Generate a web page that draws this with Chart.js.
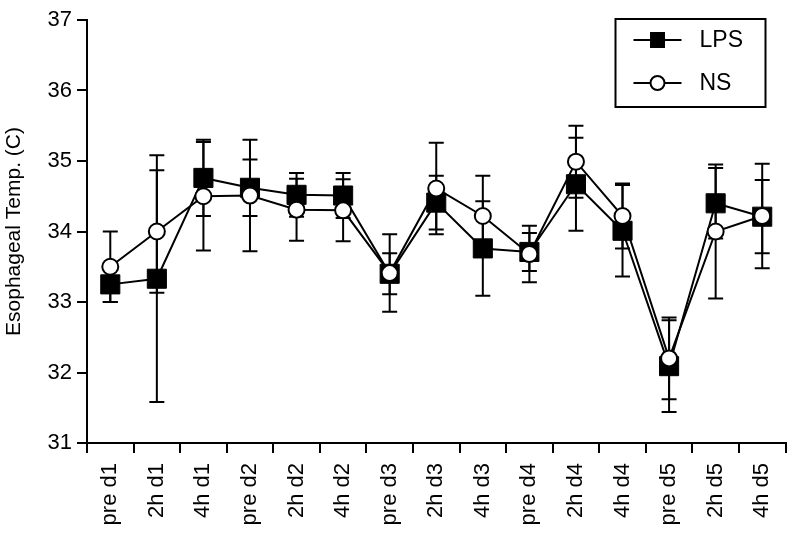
<!DOCTYPE html>
<html>
<head>
<meta charset="utf-8">
<script src="https://cdn.jsdelivr.net/npm/chart.js@4.4.0/dist/chart.umd.min.js"></script>
<style>
  html, body { margin: 0; padding: 0; background: #fff; }
  #wrap { width: 800px; height: 536px; }
</style>
</head>
<body>
<div id="wrap"><canvas id="tempChart"></canvas></div>
<script>
// time points
const timepoints = ['pre d1', '2h d1', '4h d1', 'pre d2', '2h d2', '4h d2', 'pre d3', '2h d3',
  '4h d3', 'pre d4', '2h d4', '4h d4', 'pre d5', '2h d5', '4h d5'];

// means and error (+/-)
const lpsMean = [33.25, 33.33, 34.76, 34.62, 34.52, 34.51, 33.40, 34.41, 33.76, 33.71, 34.67, 34.01, 32.09, 34.40, 34.21];
const lpsErr  = [0.25, 1.75, 0.54, 0.40, 0.31, 0.32, 0.29, 0.38, 0.67, 0.27, 0.66, 0.65, 0.65, 0.50, 0.52];
const nsMean  = [33.50, 34.00, 34.50, 34.51, 34.31, 34.30, 33.41, 34.61, 34.22, 33.68, 34.99, 34.22, 32.20, 34.00, 34.22];
const nsErr   = [0.50, 0.87, 0.77, 0.79, 0.44, 0.44, 0.55, 0.65, 0.57, 0.40, 0.51, 0.46, 0.58, 0.95, 0.74];

const yTicks = [31, 32, 33, 34, 35, 36, 37];

const FONT = 'Liberation Sans, Arial, sans-serif';

// error bars, drawn under the markers
const errorBars = {
  id: 'errorBars',
  beforeDatasetsDraw(chart) {
    const ctx = chart.ctx;
    const xs = chart.scales.x, ys = chart.scales.y;
    ctx.save();
    ctx.strokeStyle = '#000';
    ctx.lineWidth = 2;
    chart.data.datasets.forEach(ds => {
      ds.data.forEach((v, i) => {
        const e = ds.errors[i];
        const x = xs.getPixelForValue(i);
        const yt = ys.getPixelForValue(v + e);
        const yb = ys.getPixelForValue(v - e);
        ctx.beginPath();
        ctx.moveTo(x, yt); ctx.lineTo(x, yb);
        ctx.moveTo(x - 7.5, yt); ctx.lineTo(x + 7.5, yt);
        ctx.moveTo(x - 7.5, yb); ctx.lineTo(x + 7.5, yb);
        ctx.stroke();
      });
    });
    ctx.restore();
  }
};

// boxed legend in the top right corner
const boxLegend = {
  id: 'boxLegend',
  afterDraw(chart) {
    const ctx = chart.ctx;
    const a = chart.chartArea;
    const left = a.right - 170, top = a.top - 1;
    ctx.save();
    ctx.strokeStyle = '#000';
    ctx.lineWidth = 2;
    ctx.strokeRect(left, top, 150, 88);
    const rows = [chart.data.datasets[1], chart.data.datasets[0]]; // LPS first
    rows.forEach((ds, k) => {
      const y = top + 21 + k * 43;
      ctx.beginPath();
      ctx.moveTo(left + 18, y); ctx.lineTo(left + 66, y);
      ctx.stroke();
      const mx = left + 42;
      if (ds.pointStyle === 'rect') {
        ctx.fillStyle = '#000';
        ctx.fillRect(mx - 7.5, y - 8, 15, 16);
      } else {
        ctx.beginPath();
        ctx.arc(mx, y, 7, 0, Math.PI * 2);
        ctx.fillStyle = '#fff';
        ctx.fill();
        ctx.stroke();
      }
      ctx.fillStyle = '#000';
      ctx.font = '23px ' + FONT;
      ctx.textBaseline = 'middle';
      ctx.fillText(ds.label, left + 84, y + 1);
    });
    ctx.restore();
  }
};

new Chart(document.getElementById('tempChart'), {
  type: 'line',
  data: {
    labels: timepoints,
    datasets: [
      {
        label: 'NS',
        data: nsMean,
        errors: nsErr,
        borderColor: '#000',
        borderWidth: 2,
        pointStyle: 'circle',
        pointRadius: 8,
        pointBackgroundColor: '#fff',
        pointBorderColor: '#000',
        pointBorderWidth: 2,
        tension: 0,
        order: 1
      },
      {
        label: 'LPS',
        data: lpsMean,
        errors: lpsErr,
        borderColor: '#000',
        borderWidth: 2,
        pointStyle: 'rect',
        pointRadius: 13.5,
        pointBackgroundColor: '#000',
        pointBorderColor: '#000',
        pointBorderWidth: 1,
        tension: 0,
        order: 2
      }
    ]
  },
  options: {
    responsive: true,
    maintainAspectRatio: false,
    animation: false,
    layout: { padding: { top: 20, right: 13, left: 0, bottom: 0 } },
    plugins: {
      legend: { display: false },
      tooltip: { enabled: false }
    },
    scales: {
      x: {
        offset: true,
        grid: {
          offset: true,
          drawOnChartArea: false,
          drawTicks: true,
          tickLength: 10,
          color: '#000',
          lineWidth: 2
        },
        border: { display: true, color: '#000', width: 2 },
        ticks: {
          autoSkip: false,
          maxRotation: 90,
          minRotation: 90,
          padding: 10,
          color: '#000',
          font: { family: FONT, size: 22 }
        },
        afterFit: s => { s.height = 93; }
      },
      y: {
        min: 31,
        max: 37,
        afterBuildTicks: s => { s.ticks = yTicks.map(v => ({ value: v })); },
        grid: {
          drawOnChartArea: false,
          drawTicks: true,
          tickLength: 10,
          color: '#000',
          lineWidth: 2
        },
        border: { display: true, color: '#000', width: 2 },
        ticks: {
          padding: 5,
          color: '#000',
          font: { family: FONT, size: 22 }
        },
        title: {
          display: true,
          text: 'Esophageal Temp. (C)',
          color: '#000',
          font: { family: FONT, size: 21 },
          padding: { top: 2, bottom: 4 }
        },
        afterFit: s => { s.width = 87; }
      }
    }
  },
  plugins: [errorBars, boxLegend]
});
</script>
</body>
</html>
